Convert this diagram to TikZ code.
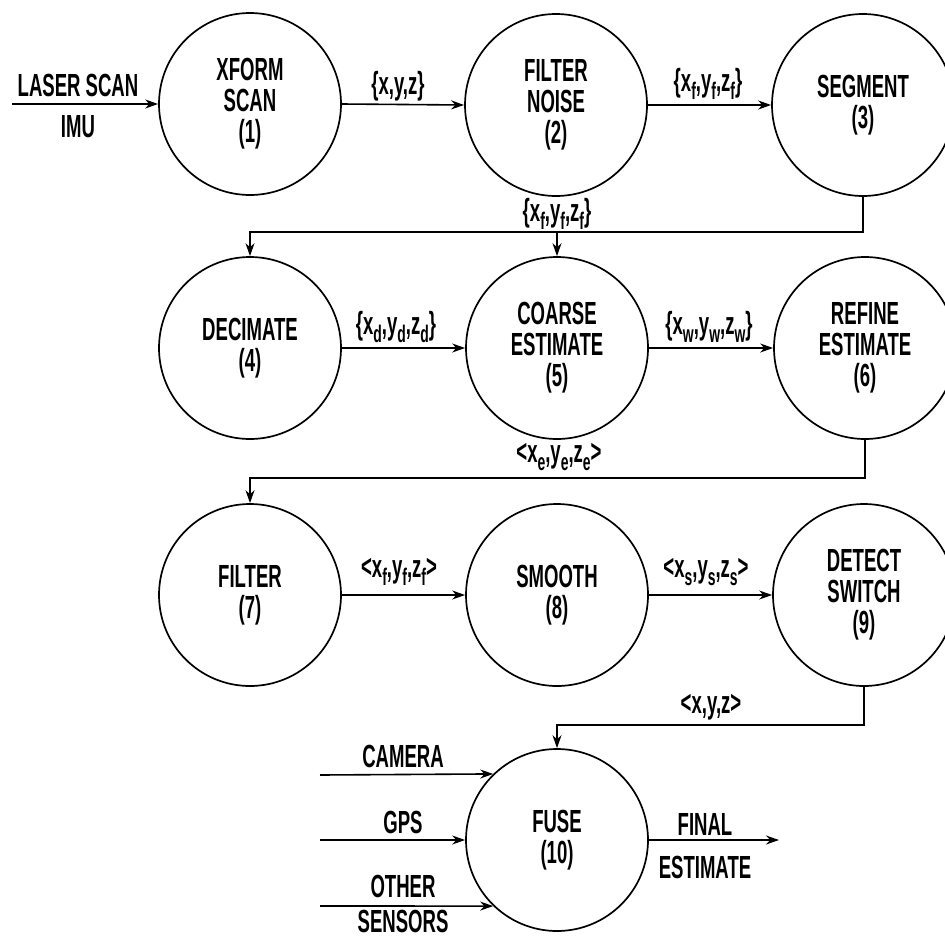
\documentclass[tikz,border=0pt]{standalone}
\usepackage{fontspec}
\setmainfont{Liberation Sans}[FakeStretch=0.58]
\usetikzlibrary{arrows.meta}
\newcommand{\lowsub}[1]{\raisebox{-8pt}{\fontsize{24}{24}\selectfont #1}}
\begin{document}
\begin{tikzpicture}[x=1pt,y=-1pt,
  every node/.style={font=\fontsize{32}{31}\selectfont\bfseries, inner sep=0pt},
  proc/.style={circle, draw, line width=1.7pt, minimum size=182pt, align=center},
  lbl/.style={align=center},
  arr/.style={line width=1.6pt, -{Stealth[length=13pt,width=9pt]}},
  ln/.style={line width=1.6pt}]
\useasboundingbox (0,0) rectangle (945,937);
% circles
\node[proc] (c1) at (250,104) {XFORM\\SCAN\\(1)};
\node[proc] (c2) at (556,105) {FILTER\\NOISE\\(2)};
\node[proc] (c3) at (863,105) {SEGMENT\\(3)};
\node[proc] (c4) at (250,348) {DECIMATE\\(4)};
\node[proc] (c5) at (557,348) {COARSE\\ESTIMATE\\(5)};
\node[proc] (c6) at (865,348) {REFINE\\ESTIMATE\\(6)};
\node[proc] (c7) at (250,595) {FILTER\\(7)};
\node[proc] (c8) at (557,595) {SMOOTH\\(8)};
\node[proc] (c9) at (864,595) {DETECT\\SWITCH\\(9)};
\node[proc] (c10) at (557,840) {FUSE\\(10)};
% coordinates
\coordinate (in) at (12,104);
\coordinate (b1) at (0,232);
\coordinate (b2) at (0,478);
\coordinate (b3) at (0,725);
\coordinate (cam) at (320,775);
\coordinate (gps) at (320,840);
\coordinate (oth) at (320,906);
\coordinate (out) at (779,840);
% row 1
\draw[arr] (in) -- (c1.west);
\node[lbl] (t1) at (78,85) {LASER SCAN};
\node[lbl] (t2) at (78,127) {IMU};
\draw[arr] (c1.east) -- (c2.west);
\node[lbl] (t3) at (398,86) {\{x,y,z\}};
\draw[arr] (c2.east) -- (c3.west);
\node[lbl] (t4) at (708,84) {\{x\lowsub{f},y\lowsub{f},z\lowsub{f}\}};
% row 1 -> 2
\draw[arr] (c3.south) |- (c4.north |- b1) -- (c4.north);
\draw[arr] (c5.north |- b1) -- (c5.north);
\node[lbl] (t5) at (557,214) {\{x\lowsub{f},y\lowsub{f},z\lowsub{f}\}};
% row 2
\draw[arr] (c4.east) -- (c5.west);
\node[lbl] (t6) at (396,327) {\{x\lowsub{d},y\lowsub{d},z\lowsub{d}\}};
\draw[arr] (c5.east) -- (c6.west);
\node[lbl] (t7) at (709,327) {\{x\lowsub{w},y\lowsub{w},z\lowsub{w}\}};
% row 2 -> 3
\draw[arr] (c6.south) |- (c7.north |- b2) -- (c7.north);
\node[lbl] (t8) at (559,457) {<x\lowsub{e},y\lowsub{e},z\lowsub{e}>};
% row 3
\draw[arr] (c7.east) -- (c8.west);
\node[lbl] (t9) at (399,572) {<x\lowsub{f},y\lowsub{f},z\lowsub{f}>};
\draw[arr] (c8.east) -- (c9.west);
\node[lbl] (t10) at (706,572) {<x\lowsub{s},y\lowsub{s},z\lowsub{s}>};
% row 3 -> fuse
\draw[arr] (c9.south) |- (c10.north |- b3) -- (c10.north);
\node[lbl] (t11) at (711,707) {<x,y,z>};
% fuse inputs
\draw[arr] (cam) -- (c10.134.4);
\node[lbl] (t12) at (403,756) {CAMERA};
\draw[arr] (gps) -- (c10.west);
\node[lbl] (t13) at (403,822) {GPS};
\draw[arr] (oth) -- (c10.226.4);
\node[lbl] (t14) at (403,886) {OTHER};
\node[lbl, anchor=base] (t15) at (403,932) {SENSORS};
\draw[arr] (c10.east) -- (out);
\node[lbl] (t16) at (705,824) {FINAL};
\node[lbl] (t17) at (705,867) {ESTIMATE};
\end{tikzpicture}
\end{document}
